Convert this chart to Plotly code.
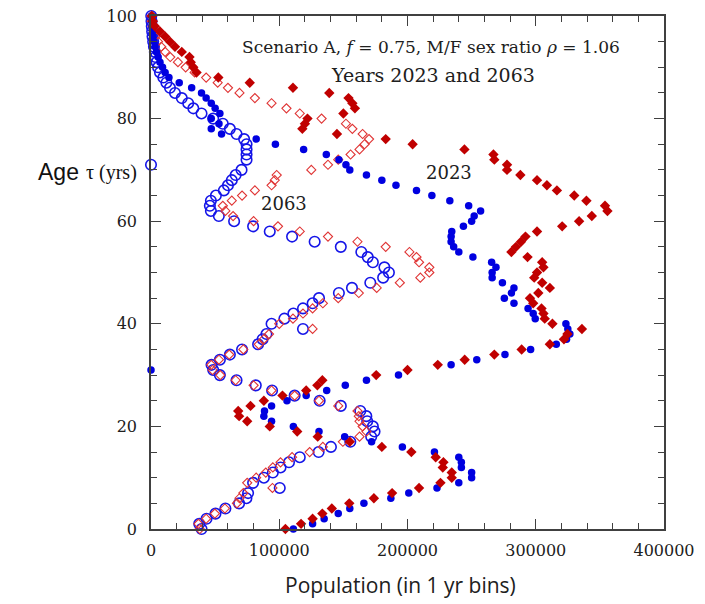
import plotly.graph_objects as go

ages = list(range(0, 101))

# 2023, males (blue filled circles), population in thousands
m2023 = [111, 126, 135, 146, 155, 166, 187, 201, 223, 240,
         250, 250, 242, 242, 240, 221, 196, 172, 151, 131,
         111, 94, 88, 88.5, 94, 106, 121, 137, 151.5, 168,
         193, 0, 234, 254, 276, 296, 316, 324, 326.6, 325,
         323.5, 299.6, 298, 294, 283, 275.5, 281, 283, 274, 266,
         266, 269, 265.6, 251, 240, 236, 234, 234, 234.5, 243.6,
         250, 252, 257, 247.7, 233, 219, 207, 191, 180, 168,
         155, 152, 146.5, 136.7, 119, 97, 82, 55, 47, 53,
         47, 53.7, 50, 47, 43, 39.4, 31.7, 22, 14, 11,
         9, 7, 5.5, 4.2, 3.2, 2.4, 1.7, 1.2, 0.8, 0.5, 0.3]

# 2023, females (red filled diamonds)
f2023 = [104.8, 117, 126, 133.6, 141, 154.6, 173.8, 188, 209, 225.7,
         234.5, 234.5, 227.5, 228, 222, 203, 180, 155, 130, 114,
         92.6, 75, 68.7, 68, 77.6, 88, 102.5, 121, 129.7, 133.6,
         175.6, 200, 223.6, 244.6, 267.7, 289, 311, 322, 324.7, 336,
         313, 307, 306, 304.5, 298, 295.5, 302, 311, 305, 298.8,
         301, 306, 305, 293.6, 281, 284.6, 288.5, 292, 301, 320.6,
         333.8, 343.7, 355.9, 354, 339.5, 330, 316.5, 308.7, 301, 288,
         277.6, 277.6, 267.7, 267, 244.4, 204, 183, 145, 118, 120,
         122, 150, 159, 157, 154, 139, 110.7, 77, 52.5, 35.5,
         33, 31, 30, 24, 18.7, 14.8, 11, 7, 3, 1.5, 0.8]

# 2063, males (blue open circles)
m2063 = [39.4, 37.6, 43.3, 50.3, 58, 68.7, 74.4, 75.7, 100.4, 79.6,
         88, 95, 101, 107.6, 116, 130.7, 140.3, 155.4, 171.7, 174.3,
         173, 168.6, 167.9, 163.2, 148, 131.5, 112, 94.4, 81.7, 66.7,
         53.7, 48.5, 47.2, 53.7, 61.5, 71, 83.5, 87, 90, 118.5,
         94, 104, 111, 118.5, 126, 131, 146.5, 156.7, 171, 181,
         185.5, 182, 173, 169, 164, 148, 127.6, 110, 92.6, 79.6,
         64.8, 52.9, 46.7, 45.9, 46.7, 50.6, 56.8, 60, 63, 66,
         70.6, 0, 74.5, 74.5, 74.5, 74.5, 72.6, 66.7, 61.5, 56,
         48.5, 39.4, 33, 29, 24, 18.7, 14.8, 12, 9.6, 7,
         5.5, 4.4, 3.5, 3, 2.3, 1.7, 1.2, 0.9, 0.6, 0.4, 0.2]

# 2063, females (red open diamonds)
f2063 = [38, 37, 43, 49.8, 57.6, 67, 69, 72, 94.7, 75,
         82, 89.5, 95, 101, 110, 123.7, 134, 149.6, 162.6, 168,
         165, 162.6, 162, 161, 146, 131, 112, 94, 80, 66,
         54, 48, 47, 53, 61, 72, 84, 88, 92, 126,
         100, 110.7, 118.5, 126, 134, 146, 162, 176, 194, 210,
         217, 217, 209, 207, 201.5, 183, 161, 138, 116, 99,
         80, 64, 58, 56, 63, 71, 81, 94, 96.5, 98,
         125, 138, 146, 155.6, 162.6, 166.5, 170, 165, 157, 152,
         133, 116, 105.6, 94, 81, 69, 60, 52, 43, 34,
         27, 21, 15, 11, 8, 5.5, 3.5, 2.2, 1.2, 0.6, 0.3]

x_ticks = [0, 100000, 200000, 300000, 400000]
y_ticks = [0, 20, 40, 60, 80, 100]

BLUE = "#0000e0"
RED = "#c00000"
RED_OPEN = "#e03535"
BLUE_OPEN = "#1515e8"

def scale(v):
    return [a * 1000 for a in v]

fig = go.Figure()
fig.add_trace(go.Scatter(x=scale(m2063), y=ages, mode="markers", cliponaxis=False,
                         marker=dict(symbol="circle-open", size=10.5, color=BLUE_OPEN,
                                     line=dict(width=1.6, color=BLUE_OPEN))))
fig.add_trace(go.Scatter(x=scale(f2063), y=ages, mode="markers", cliponaxis=False,
                         marker=dict(symbol="diamond-open", size=7, color=RED_OPEN,
                                     line=dict(width=1.1, color=RED_OPEN))))
fig.add_trace(go.Scatter(x=scale(m2023), y=ages, mode="markers", cliponaxis=False,
                         marker=dict(symbol="circle", size=7.5, color=BLUE)))
fig.add_trace(go.Scatter(x=scale(f2023), y=ages, mode="markers", cliponaxis=False,
                         marker=dict(symbol="diamond", size=8, color=RED)))

axis_common = dict(showline=True, linecolor="#404040", linewidth=1.5, mirror="allticks",
                   ticks="inside", ticklen=10, tickwidth=1.3, tickcolor="#404040",
                   showgrid=False, zeroline=False, automargin=False,
                   ticklabeloverflow="allow",
                   tickfont=dict(family="DejaVu Serif", size=16, color="#202020"))

# page has an 8px body margin, so the figure is drawn 8px smaller and offset
W, H = 697, 596
L, T, R, B = 143, 8, 41, 75
PW = W - L - R
PH = H - T - B

fig.update_layout(
    width=W, height=H,
    margin=dict(l=L, r=R, t=T, b=B),
    paper_bgcolor="white", plot_bgcolor="white",
    showlegend=False,
    xaxis=dict(range=[0, 400000], tickvals=x_ticks, ticktext=[str(v) for v in x_ticks],
               ticklabelstandoff=6,
               minor=dict(dtick=20000, ticks="inside", ticklen=6, tickcolor="#404040", tickwidth=1),
               **axis_common),
    yaxis=dict(range=[0, 100], tickvals=y_ticks, ticktext=[str(v) for v in y_ticks],
               ticklabelstandoff=9,
               minor=dict(dtick=5, ticks="inside", ticklen=6, tickcolor="#404040", tickwidth=1),
               **axis_common),
)

def px_x(p):
    # page pixel x -> paper coordinate
    return (p - 8 - L) / PW

def px_y(p):
    # page pixel y -> paper coordinate
    return (H - B - (p - 8)) / PH

serif = "DejaVu Serif"
fig.add_annotation(x=218000, y=94, xref="x", yref="y", showarrow=False,
                   text="Scenario A, <i>f</i> = 0.75, M/F sex ratio <i>ρ</i> = 1.06",
                   font=dict(family=serif, size=17, color="#202020"))
fig.add_annotation(x=219500, y=88.5, xref="x", yref="y", showarrow=False,
                   text="Years 2023 and 2063",
                   font=dict(family=serif, size=19, color="#202020"))
fig.add_annotation(x=232000, y=69.4, xref="x", yref="y", showarrow=False,
                   text="2023", font=dict(family=serif, size=18, color="#202020"))
fig.add_annotation(x=104000, y=63.4, xref="x", yref="y", showarrow=False,
                   text="2063", font=dict(family=serif, size=18, color="#202020"))

# axis titles
fig.add_annotation(x=px_x(81), y=px_y(172), xref="paper", yref="paper",
                   xanchor="right", yanchor="middle", showarrow=False, text="Age",
                   font=dict(family="Liberation Sans", size=23, color="#111111"))
fig.add_annotation(x=px_x(84), y=px_y(172), xref="paper", yref="paper",
                   xanchor="left", yanchor="middle", showarrow=False, text="τ (yrs)",
                   font=dict(family="Liberation Serif", size=20, color="#111111"))
fig.add_annotation(x=px_x(400), y=px_y(585), xref="paper", yref="paper",
                   xanchor="center", yanchor="middle", showarrow=False,
                   text="Population (in 1 yr bins)",
                   font=dict(family="Open Sans", size=21, color="#202020"))

fig.write_html("out.html")
